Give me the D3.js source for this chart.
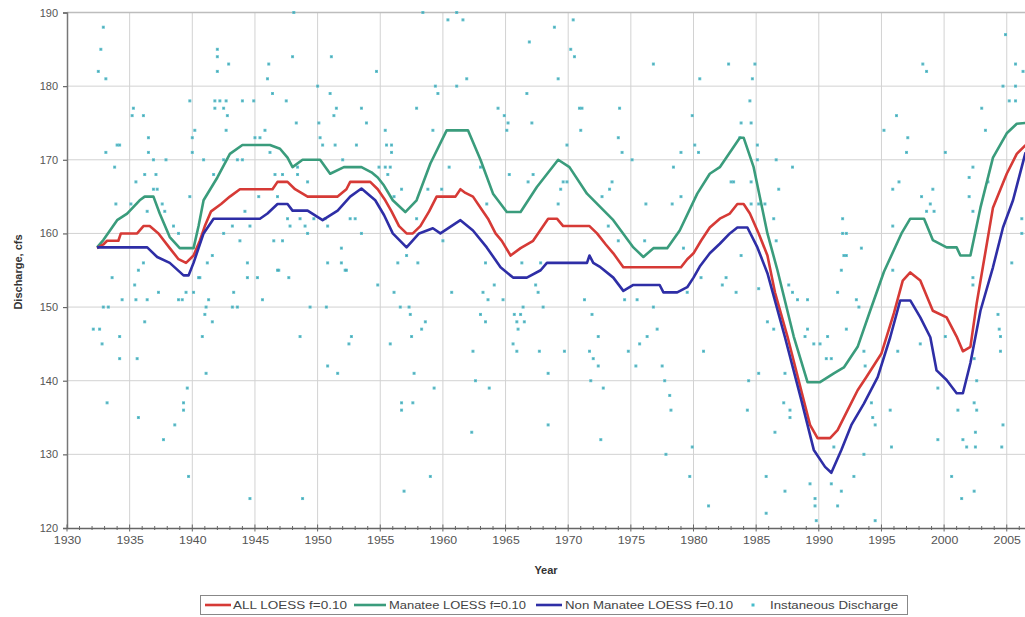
<!DOCTYPE html>
<html><head><meta charset="utf-8">
<script src="https://cdn.jsdelivr.net/npm/d3@7"></script>
<style>
html,body{margin:0;padding:0;background:#fff;overflow:hidden;}
text{font-family:"Liberation Sans",Arial,sans-serif;}
</style></head>
<body>
<svg id="chart" width="1025" height="617"></svg>
<script>
// ---------------- DATA ----------------
const xTicks = [1930,1935,1940,1945,1950,1955,1960,1965,1970,1975,1980,1985,1990,1995,2000,2005];
const yTicks = [120,130,140,150,160,170,180,190];
const seriesNames = ["ALL LOESS f=0.10","Manatee LOESS f=0.10","Non Manatee LOESS f=0.10","Instaneous Discharge"];

const allLoess = [[1932.4,158],[1932.9,158.5],[1933.2,159],[1934.1,159],[1934.3,160],[1935.6,160],[1936.1,161],[1936.6,161],[1937.3,160],[1938.2,158],[1938.9,156.5],[1939.5,156],[1940.1,157],[1940.6,159],[1941.0,161],[1941.5,163],[1942.3,164],[1943.0,165],[1943.8,166],[1946.4,166],[1946.8,167],[1947.6,167],[1948.2,166],[1949.2,165],[1951.6,165],[1952.3,166],[1952.6,167],[1954.2,167],[1954.8,166],[1955.4,164.5],[1955.9,163],[1956.5,161],[1957.1,160],[1957.6,160],[1958.2,161],[1958.9,163],[1959.5,165],[1961.0,165],[1961.4,166],[1961.8,165.5],[1962.4,165],[1963.0,163.5],[1963.6,162],[1964.2,160],[1964.7,159],[1965.4,157],[1966.2,158],[1967.2,159],[1967.8,160.5],[1968.4,162],[1969.1,162],[1969.6,161],[1971.7,161],[1972.3,160],[1973.0,158.5],[1973.6,157.3],[1974.4,155.4],[1979.0,155.4],[1979.5,156.5],[1980.0,157.3],[1980.6,159],[1981.3,160.8],[1982.1,162],[1982.9,162.7],[1983.5,164],[1984.0,164],[1984.5,162.7],[1985.2,160],[1985.9,157],[1986.5,152],[1987.5,146],[1988.4,140],[1989.3,134],[1989.9,132.2],[1990.9,132.2],[1991.5,133.3],[1992.3,136],[1993.1,138.7],[1993.8,140.5],[1995.0,143.7],[1996.0,149.2],[1996.7,153.6],[1997.3,154.7],[1998.1,153.6],[1999.1,149.5],[2000.2,148.6],[2001.0,146],[2001.5,144],[2002.1,144.6],[2002.6,150.5],[2003.1,155.5],[2003.9,163.5],[2005.0,168.1],[2005.8,170.8],[2006.5,172]];

const manateeLoess = [[1932.4,158.1],[1932.9,159.1],[1934.0,161.8],[1934.8,162.7],[1935.8,164.5],[1936.2,165],[1936.9,165],[1937.4,162.7],[1938.2,159.5],[1939.0,158],[1940.1,158],[1940.5,161],[1940.9,164.5],[1942.0,167.6],[1943.0,170.8],[1944.0,172],[1946.2,172],[1947.0,171.5],[1947.6,170.3],[1948.0,169],[1948.8,170],[1950.2,170],[1951.0,168.1],[1952.1,169],[1953.5,169],[1954.3,168.3],[1954.8,167.6],[1955.3,166.5],[1956.0,164.5],[1957.0,162.9],[1957.9,164.5],[1959.0,169.5],[1960.3,174],[1962.0,174],[1963.0,170],[1964.0,165.4],[1965.1,162.9],[1966.2,162.9],[1967.5,166.3],[1969.2,170],[1970.1,169],[1971.5,165.4],[1973.6,161.8],[1975.2,158.1],[1976.0,156.8],[1976.8,158],[1977.9,158],[1978.9,160.4],[1980.3,165.4],[1981.3,168.1],[1982.1,169],[1983.7,173],[1984.0,173],[1984.8,169],[1985.9,160],[1986.7,155],[1988.0,146],[1989.1,139.8],[1990.1,139.8],[1991.2,141],[1992.0,141.8],[1993.1,144.6],[1994.1,149.5],[1995.2,154.8],[1996.6,160],[1997.3,162],[1998.4,162],[1999.1,159.1],[2000.2,158.1],[2001.0,158.1],[2001.3,157],[2002.1,157],[2002.9,163.5],[2003.9,170.3],[2005.0,173.6],[2005.8,174.9],[2006.5,175]];

const nonManateeLoess = [[1932.4,158.1],[1936.4,158.1],[1937.2,156.8],[1938.2,156],[1939.3,154.3],[1939.7,154.3],[1940.1,156],[1940.9,160],[1941.7,162],[1945.4,162],[1946.0,162.7],[1946.8,164],[1947.6,164],[1948.0,163.1],[1949.2,163.1],[1950.4,161.8],[1951.6,163.1],[1952.6,165],[1953.5,166.1],[1954.6,164.5],[1955.3,162.5],[1956.0,160],[1957.1,158.1],[1958.1,160],[1959.2,160.7],[1959.8,160],[1961.4,161.8],[1962.4,160.4],[1963.5,158.1],[1964.6,155.4],[1965.6,154],[1966.7,154],[1967.8,155],[1968.3,156],[1971.5,156],[1971.7,157],[1972.0,156],[1972.5,155.5],[1973.6,154],[1974.4,152.2],[1975.2,153],[1977.3,153],[1977.6,152],[1978.7,152],[1979.5,152.7],[1980.0,154],[1980.5,155.5],[1981.3,157.3],[1982.1,158.6],[1982.9,160],[1983.5,160.8],[1984.3,160.8],[1985.1,158.1],[1985.9,154.6],[1987.3,145.9],[1988.6,137.4],[1989.6,130.6],[1990.5,128.3],[1991.0,127.5],[1991.8,130.6],[1992.6,134],[1993.6,136.9],[1994.7,140.5],[1995.7,145.9],[1996.5,150.9],[1997.3,150.9],[1998.1,148.6],[1998.9,145.9],[1999.4,141.4],[2000.2,140.1],[2001.0,138.3],[2001.5,138.3],[2002.1,142.4],[2002.9,149.5],[2003.9,155.4],[2004.7,160.8],[2005.5,164.5],[2006.5,171]];

const instantaneous = [
[1932.9,188],[1932.7,185],[1932.5,182],[1933.1,181],[1933.1,171],[1933.8,169],[1933.9,164],[1933.6,154],
[1935.3,177],[1935.2,176],[1936.1,176],[1936.5,173],[1934.2,172],[1934.0,172],[1936.5,171],[1936.9,170],[1937.9,170],[1936.2,168],[1937.1,168],[1935.5,167],[1936.9,166],[1937.2,166],[1935.1,164],[1937.6,164],[1936.4,163],[1937.8,163],[1938.5,161],[1938.9,160],[1936.1,156],[1935.7,155],[1935.4,153],[1934.4,151],[1935.5,151],[1936.4,151],[1937.3,152],[1938.9,151],[1939.2,151],[1939.5,152],[1932.9,150],[1933.3,150],[1936.2,148],[1932.1,147],[1932.6,147],[1932.8,145],[1934.2,146],[1934.2,143],[1935.6,143],[1939.6,139],[1933.2,137],[1939.3,137],[1939.3,136],[1935.7,135],[1938.6,134],[1937.7,132],[1939.7,127],[1939.8,178],
[1940.2,174],[1940.0,173],[1940.0,171],[1940.9,170],[1939.8,165],[1940.1,152],[1940.5,154],[1940.6,154],[1941.3,151],[1941.1,150],[1941.0,149],[1941.6,148],[1940.8,146],[1941.1,141],
[1942.0,185],[1942.0,184],[1942.9,183],[1942.0,182],[1941.8,178],[1942.2,178],[1942.7,178],[1944.0,178],[1944.9,178],[1941.8,177],[1942.5,177],[1942.8,176],[1942.7,174],[1942.5,170],[1943.6,170],[1944.0,170],[1941.7,168],[1943.2,161],[1944.6,161],[1942.5,160],[1943.8,159],[1941.6,157],[1941.2,156],[1944.4,156],[1943.3,152],[1943.2,150],[1943.6,150],[1944.4,154],[1944.2,163],[1944.6,124],
[1946.1,183],[1946.0,181],[1946.4,179],[1947.5,178],[1945.8,174],[1945.0,173],[1945.4,173],[1946.2,171],[1946.6,168],[1947.2,168],[1945.3,165],[1946.8,165],[1947.6,162],[1948.6,162],[1949.7,162],[1947.8,161],[1949.0,161],[1946.5,159],[1947.2,159],[1946.8,155],[1945.2,154],[1947.7,154],[1946.9,155],[1945.6,151],[1948.1,190],[1948.0,184],[1948.3,175],[1948.4,169],[1948.4,168],[1949.2,167],[1949.2,160],[1949.4,150],[1948.6,146],[1948.8,124],
[1951.1,184],[1950.0,180],[1951.0,179],[1951.5,177],[1951.3,176],[1950.1,175],[1950.2,173],[1950.4,172],[1951.4,172],[1952.0,170],[1950.6,162],[1950.8,161],[1951.9,158],[1950.8,156],[1951.9,156],[1950.7,150],[1950.8,142],[1951.6,141],
[1954.7,182],[1953.5,177],[1953.9,175],[1953.1,172],[1952.6,162],[1953.0,162],[1953.5,160],[1952.3,155],[1952.2,155],[1952.7,146],[1952.5,145],[1954.8,153],[1955.4,174],[1955.5,172],[1954.9,169],[1955.4,169],[1955.8,169],[1955.6,168],
[1955.9,172],[1955.9,171],[1956.1,165],[1956.7,166],[1957.1,157],[1956.4,156],[1958.0,156],[1957.9,162],[1957.9,177],[1956.1,152],[1956.6,150],[1957.3,150],[1957.4,149],[1958.6,148],[1958.3,147],[1957.5,146],[1955.8,145],[1957.7,141],[1959.3,139],[1956.7,137],[1957.6,137],[1956.7,136],[1959.0,127],[1956.9,125],[1958.4,190],[1959.4,180],[1959.6,179],[1959.2,174],[1958.8,166],[1959.9,166],[1960.0,159],
[1961.1,190],[1960.4,189],[1961.6,189],[1961.9,181],[1961.1,180],[1960.5,169],[1960.7,152],[1963.0,169],[1963.5,164],[1963.4,156],[1962.4,144],[1962.6,140],[1963.7,139],[1962.3,133],[1964.1,153],[1963.2,152],[1963.6,151],[1964.8,151],[1963.0,149],[1963.4,148],[1964.4,177],[1964.9,176],[1965.2,175],[1965.1,174],[1965.3,168],[1965.7,149],[1966.2,149],[1965.9,148],[1966.5,148],[1966.0,147],[1965.6,145],[1965.9,144],[1966.9,186],[1966.7,179],[1967.1,175],[1967.2,168],[1966.8,167],[1966.3,156],[1967.8,156],[1966.4,150],[1968.0,150],[1967.4,153],[1967.6,152],[1967.7,144],[1968.4,141],[1968.4,134],[1968.9,188],[1969.2,181],[1969.9,172],[1969.6,167],[1969.9,167],[1969.4,166],[1969.2,164],[1969.7,144],
[1970.4,189],[1970.2,185],[1970.5,184],[1970.9,177],[1971.1,177],[1971.0,174],[1971.3,151],[1971.9,149],[1972.4,146],[1971.7,144],[1972.0,143],[1972.4,142],[1971.8,140],[1972.8,139],[1972.6,132],[1972.7,165],[1973.3,166],[1973.5,167],[1973.2,161],[1974.0,173],[1974.3,171],[1974.1,177],[1974.0,159],[1975.1,170],[1976.1,159],[1976.2,164],[1974.5,151],[1975.5,151],[1976.8,150],[1977.1,147],[1976.3,146],[1975.7,145],[1974.8,144],[1975.4,142],[1977.5,142],[1977.7,140],[1978.1,138],[1978.2,136],[1977.8,130],[1976.8,183],[1978.3,164],[1979.0,165],[1979.0,171],[1979.2,158],[1978.4,169],[1979.5,152],[1979.9,131],[1979.7,127],
[1980.5,181],[1979.9,176],[1980.4,171],[1980.1,172],[1980.6,154],[1980.8,144],[1981.2,123],[1982.3,153],[1982.6,154],[1983.4,152],[1982.8,183],[1984.9,183],[1984.7,181],[1984.5,178],[1983.8,175],[1984.6,175],[1983.7,173],[1985.1,172],[1985.1,170],[1986.6,170],[1987.9,169],[1983.0,167],[1983.2,167],[1984.6,167],[1986.8,166],[1984.6,164],[1985.2,164],[1985.7,164],[1986.4,162],[1986.6,159],[1983.8,157],[1985.2,152.5],[1985.2,141],[1984.4,140],[1984.3,136],[1985.9,148],[1986.4,147],[1986.5,133],[1987.6,153],[1987.9,152],[1988.3,151],[1989.1,151],[1987.3,141],[1987.2,137],[1987.7,136],[1987.7,135],[1989.1,147],[1988.9,146],[1989.6,145],[1985.8,127],[1987.3,125],[1985.8,122],[1989.3,126],[1989.7,124],[1989.7,123],[1989.8,121],
[1990.1,145],[1990.7,146],[1990.6,143],[1991.0,143],[1991.5,152],[1992.2,147],[1993.0,151],[1993.2,150],[1993.6,144],[1993.7,142],[1994.2,137],[1994.3,135],[1994.5,134],[1991.2,131],[1993.6,130],[1992.8,127],[1991.8,125],[1991.0,126],[1991.5,123],[1994.5,121],[1991.9,162],[1991.9,160],[1992.2,160],[1992.0,157],[1992.2,157],[1993.4,158],[1991.8,155],[1995.9,155],[1995.7,136],[1995.8,131],[1996.3,144],[1996.2,176],[1995.2,174],[1997.1,173],[1997.0,171],[1996.4,167],[1995.9,166],[1995.9,161],[1998.3,183],[1998.6,182],[1998.2,165],[1998.9,164],[1999.2,163],[1998.6,163],[1999.1,166],[1998.1,145],[1999.5,132],[1999.5,139],
[2000.1,171],[2000.1,146],[2000.6,127],[2001.4,124],[2002.4,125],[2001.1,136],[2001.5,132],[2001.8,131],[2002.5,131],[2002.5,133],[2002.4,137],[2002.6,136],[2002.6,140],[2002.4,143],[2002.3,154],[2002.3,153],[2002.3,169],[2002.0,167.6],[2002.0,165],[2002.3,163],[2003.0,177],[2003.3,174],[2003.5,167],[2004.3,149],[2004.4,147],[2004.5,146],[2004.5,144],[2004.7,134],[2004.6,131],[2004.9,187],[2005.7,183],[2006.3,182],[2004.7,180],[2005.7,180],[2005.2,178],[2005.7,178],[2006.2,162],[2006.2,160],[2005.4,156]
];

// ---------------- CHART ----------------
(function () {
const svg = d3.select("#chart");
const plotLeft = 67, plotTop = 12.5, plotBottom = 528;
const pxPerYear = 12.53;
const x = d3.scaleLinear().domain([1930, 2007]).range([plotLeft, plotLeft + 77 * pxPerYear]);
const y = d3.scaleLinear().domain([120, 190]).range([plotBottom, plotTop]);

const colors = {red:"#d63a36", green:"#3a9c7c", blue:"#2e2ea6", dot:"#46bccb"};

// gridlines
const grid = svg.append("g");
grid.selectAll(".vg").data(xTicks.slice(1)).join("line")
  .attr("x1", d => x(d)).attr("x2", d => x(d)).attr("y1", plotTop).attr("y2", plotBottom)
  .attr("stroke", "#d2d2d2").attr("stroke-width", 1);
grid.selectAll(".hg").data(yTicks.slice(1)).join("line")
  .attr("x1", plotLeft).attr("x2", 1025).attr("y1", d => y(d)).attr("y2", d => y(d))
  .attr("stroke", d => d === 190 ? "#bdbdbd" : "#d2d2d2").attr("stroke-width", d => d === 190 ? 1.5 : 1);

// scatter
svg.append("g").selectAll("rect").data(instantaneous).join("rect")
  .attr("x", d => x(d[0]) - 1.5).attr("y", d => y(d[1]) - 1.5)
  .attr("width", 3).attr("height", 3).attr("fill", colors.dot).attr("opacity", 0.85);
svg.append("g").selectAll("rect").data(instantaneous).join("rect")
  .attr("x", d => x(d[0]) - 0.6).attr("y", d => y(d[1]) - 0.6)
  .attr("width", 1.2).attr("height", 1.2).attr("fill", "#5e9aa2");

// lines
const line = d3.line().x(d => x(d[0])).y(d => y(d[1]));
[[manateeLoess, colors.green],[allLoess, colors.red],[nonManateeLoess, colors.blue]].forEach(([data, c]) => {
  svg.append("path").datum(data).attr("d", line).attr("fill", "none")
    .attr("stroke", c).attr("stroke-width", 2.6).attr("stroke-linejoin", "round");
});

// y axis
const yAxis = d3.axisLeft(y).tickValues(yTicks).tickSize(4).tickPadding(5).tickFormat(d3.format("d"));
const gy = svg.append("g").attr("transform", `translate(${plotLeft},0)`).call(yAxis);
gy.select(".domain").attr("stroke", "#777").attr("stroke-width", 1.5);
gy.selectAll(".tick line").attr("stroke", "#666").attr("stroke-width", 1.2);
gy.selectAll(".tick text").attr("font-size", "11px").attr("fill", "#555")
  .attr("font-family", "'Liberation Sans', Arial, sans-serif");

// x axis (major)
const xAxis = d3.axisBottom(x).tickValues(xTicks).tickSize(0).tickPadding(8).tickFormat(d3.format("d"));
const gx = svg.append("g").attr("transform", `translate(0,${plotBottom})`).call(xAxis);
gx.select(".domain").attr("stroke", "#666").attr("stroke-width", 1.5);
gx.selectAll(".tick text").attr("font-size", "11px").attr("fill", "#555")
  .attr("font-family", "'Liberation Sans', Arial, sans-serif")
  .attr("transform", "scale(1.12,1)");
// minor ticks every year (cross style)
const years = d3.range(1930, 2007);
svg.append("g").selectAll("line").data(years).join("line")
  .attr("x1", d => x(d)).attr("x2", d => x(d))
  .attr("y1", d => d % 5 === 0 ? plotBottom - 3.5 : plotBottom - 2)
  .attr("y2", d => d % 5 === 0 ? plotBottom + 3.5 : plotBottom + 2)
  .attr("stroke", "#666").attr("stroke-width", 1);

// axis titles
svg.append("text").attr("x", 546).attr("y", 574).attr("text-anchor", "middle")
  .attr("font-size", "11px").attr("font-weight", "bold").attr("fill", "#333").text("Year");
svg.append("text").attr("transform", "translate(22,272) rotate(-90)").attr("text-anchor", "middle")
  .attr("font-size", "11px").attr("font-weight", "bold").attr("fill", "#333").text("Discharge, cfs");

// legend
const lg = svg.append("g");
lg.append("rect").attr("x", 200.5).attr("y", 595.5).attr("width", 707).attr("height", 19)
  .attr("fill", "#fff").attr("stroke", "#888").attr("stroke-width", 1);
const legendItems = [
  {name: seriesNames[0], type:"line", color: colors.red, sx:205, sw:26, tx:233, tl:114},
  {name: seriesNames[1], type:"line", color: colors.green, sx:354, sw:32, tx:389, tl:137},
  {name: seriesNames[2], type:"line", color: colors.blue, sx:536, sw:26, tx:565, tl:168},
  {name: seriesNames[3], type:"dot", color: colors.dot, sx:753, sw:0, tx:770, tl:128}
];
legendItems.forEach(it => {
  if (it.type === "line") {
    lg.append("line").attr("x1", it.sx).attr("x2", it.sx + it.sw).attr("y1", 605).attr("y2", 605)
      .attr("stroke", it.color).attr("stroke-width", 2.6);
  } else {
    lg.append("rect").attr("x", it.sx - 1.5).attr("y", 603.5).attr("width", 3).attr("height", 3).attr("fill", it.color);
  }
  lg.append("text").attr("x", it.tx).attr("y", 609).attr("font-size", "11px").attr("fill", "#444")
    .attr("textLength", it.tl).attr("lengthAdjust", "spacingAndGlyphs").text(it.name);
});
})();
</script>
</body></html>
